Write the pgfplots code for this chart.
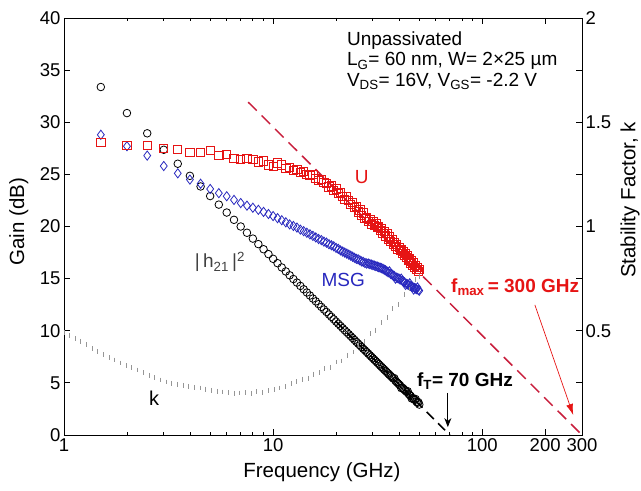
\documentclass[border=0pt]{standalone}
\usepackage{fontspec}
\setmainfont{Liberation Sans}
\usepackage{pgfplots}
\usepackage{pgfplotstable}
\pgfplotsset{compat=1.18}
\usetikzlibrary{arrows.meta,calc}

\definecolor{ured}{RGB}{230,20,20}
\definecolor{msgblue}{RGB}{40,40,190}
\definecolor{fmaxred}{RGB}{200,30,60}
\definecolor{kgray}{RGB}{150,150,150}
\newcommand\fs[1]{\fontsize{#1}{#1}\selectfont}

% f [GHz], |h21|^2 [dB], MSG [dB], U [dB]
\pgfplotstableread{
f h21 msg u
1.5 33.38 28.8 28.1
2 30.88 27.7 27.8
2.5 28.94 26.8 27.8
3 27.36 25.8 27.5
3.5 26.02 25.1 27.4
4 24.86 24.5 27.1
4.5 23.84 24.1 27.1
5 22.92 23.6 27.3
5.5 22.10 23.2 26.8
6 21.34 22.9 26.9
6.5 20.64 22.55 26.5
7 20.00 22.25 26.4
7.5 19.40 22.0 26.5
8 18.84 21.8 26.4
8.5 18.31 21.6 26.2
9 17.82 21.4 26.3
9.5 17.35 21.2 25.9
10 16.90 21.0 25.8
10.5 16.48 20.8 26.1
11 16.07 20.6 25.9
11.5 15.69 20.4 25.6
12 15.32 20.2 25.7
12.5 14.96 20.05 25.4
13 14.62 19.9 25.5
13.5 14.30 19.7 25.2
14 13.98 19.55 25.3
14.5 13.67 19.4 25.0
15 13.38 19.25 24.9
15.5 13.09 19.1 25.0
16 12.82 18.95 24.6
16.5 12.55 18.8 24.4
17 12.29 18.7 24.5
17.5 12.04 18.55 24.2
18 11.80 18.45 24.1
18.5 11.56 18.3 23.8
19 11.33 18.2 23.9
19.5 11.10 18.1 23.5
20 10.88 17.95 23.6
20.5 10.67 17.85 23.2
21 10.46 17.7 23.3
21.5 10.25 17.6 22.9
22 10.05 17.5 22.6
22.5 9.86 17.4 22.9
23 9.67 17.3 22.5
23.5 9.48 17.2 22.1
24 9.30 17.1 22.3
24.5 9.12 17.0 21.8
25 8.94 16.9 21.9
25.5 8.77 16.85 21.4
26 8.60 16.75 21.6
26.5 8.44 16.65 21.1
27 8.27 16.6 21.3
27.5 8.12 16.5 20.8
28 7.96 16.45 20.9
28.5 7.81 16.45 20.5
29 7.65 16.4 20.7
29.5 7.51 16.35 20.2
30 7.36 16.3 20.5
30.5 7.22 16.25 20.1
31 7.08 16.2 20.3
31.5 6.94 16.15 19.9
32 6.80 16.1 20.0
32.5 6.66 16.05 19.6
33 6.53 16.0 19.8
33.5 6.40 15.95 19.3
34 6.27 15.85 19.5
34.5 6.15 15.8 19.1
35 6.02 15.7 19.3
35.5 5.90 15.6 18.8
36 5.78 15.7 19.0
36.5 5.66 15.45 18.6
37 5.54 15.4 18.8
37.5 5.42 15.3 18.3
38 5.45 15.25 18.5
38.5 5.19 15.0 18.1
39 5.08 15.1 18.3
39.5 4.97 15.05 17.8
40 4.86 15.0 18.0
40.5 4.75 14.9 17.7
41 4.50 15.0 17.8
41.5 4.54 14.8 17.4
42 4.44 14.7 17.6
42.5 4.33 14.65 17.2
43 4.23 14.4 17.4
43.5 4.13 14.5 17.0
44 4.20 14.45 17.2
44.5 3.93 14.4 16.8
45 3.84 14.55 16.9
45.5 3.74 14.3 16.5
46 3.50 14.25 16.7
46.5 3.55 14.2 16.3
47 3.46 13.95 16.5
47.5 3.37 14.1 16.1
48 3.45 14.05 16.3
48.5 3.19 14.0 15.9
49 3.10 14.15 16.1
49.5 3.15 13.9 15.7
50 2.92 13.85 15.9
}\gaindata

% stability factor k
\pgfplotstableread{
f k
1.00 0.490
1.06 0.478
1.13 0.463
1.20 0.450
1.28 0.433
1.37 0.415
1.45 0.400
1.55 0.385
1.65 0.371
1.75 0.360
1.87 0.345
1.99 0.333
2.11 0.324
2.25 0.312
2.40 0.298
2.55 0.286
2.72 0.275
2.89 0.264
3.08 0.254
3.28 0.248
3.49 0.243
3.71 0.238
3.95 0.234
4.21 0.229
4.48 0.225
4.77 0.220
5.07 0.215
5.40 0.210
5.75 0.206
6.12 0.203
6.51 0.200
6.93 0.201
7.38 0.203
7.85 0.200
8.36 0.207
8.90 0.205
9.47 0.212
10.1 0.218
10.7 0.225
11.4 0.232
12.2 0.248
12.9 0.255
13.8 0.268
14.7 0.272
15.6 0.292
16.6 0.300
17.7 0.318
18.8 0.325
20.0 0.350
21.3 0.355
22.7 0.382
24.2 0.398
25.7 0.430
27.4 0.448
29.1 0.485
31.0 0.503
33.0 0.540
35.1 0.565
37.4 0.605
39.8 0.625
42.4 0.675
45.1 0.700
48.0 0.745
50.0 0.760
}\kdata

\begin{document}
\begin{tikzpicture}
\begin{axis}[name=main,
    scale only axis, width=518pt, height=417pt,
    xmode=log, xmin=1, xmax=300,
    ymin=0, ymax=40,
    tick align=inside,
    major tick length=6pt, minor tick length=3.5pt,
    axis line style={line width=0.8pt},
    every tick/.append style={black, line width=0.8pt},
    /pgf/number format/assume math mode=true,
    tick label style={font=\fs{18.5}},
    xtick={1,10,100,200,300}, xticklabels={1,10,100,200,300},
    minor xtick={2,3,4,5,6,7,8,9,20,30,40,50,60,70,80,90},
    ytick={0,5,...,40},
    xtick pos=both, ytick pos=left,
    clip=false]

  \addplot[only marks, mark=o, mark size=3.8pt, black, mark options={line width=0.8pt}]
    table[x=f, y=h21] {\gaindata};
  \addplot[only marks, mark=diamond, mark size=4.6pt, msgblue, mark options={line width=0.8pt}]
    table[x=f, y=msg] {\gaindata};
  \addplot[only marks, mark=square, mark size=4.1pt, ured, mark options={line width=0.8pt}]
    table[x=f, y=u] {\gaindata};

  % -20 dB/decade extrapolations
  \addplot[fmaxred, line width=1.5pt, dash pattern=on 12pt off 7pt]
    coordinates {(7.6,31.93) (300,0)};
  \addplot[black, line width=1.5pt, dash pattern=on 10pt off 6pt]
    coordinates {(20,10.88) (70,0)};

  % labels
  \node[rotate=90, font=\fs{20.5}] at (rel axis cs:-0.087,0.511) {Gain (dB)};
  \node[font=\fs{20.5}] at (rel axis cs:0.498,-0.089) {Frequency (GHz)};
  \node[rotate=90, font=\fs{20.5}] at (rel axis cs:1.093,0.564) {Stability Factor, k};

  \node[anchor=base west, inner xsep=0pt, font=\fs{19}] at (rel axis cs:0.546,0.934) {Unpassivated};
  \node[anchor=base west, inner xsep=0pt, font=\fs{19}] at (rel axis cs:0.546,0.885)
    {L\textsubscript{G}= 60 nm, W= 2×25 µm};
  \node[anchor=base west, inner xsep=0pt, font=\fs{19}] at (rel axis cs:0.546,0.836)
    {V\textsubscript{DS}= 16V, V\textsubscript{GS}= -2.2 V};

  \node[ured, font=\fs{19}] at (rel axis cs:0.575,0.619) {U};
  \node[msgblue, font=\fs{19}] at (rel axis cs:0.539,0.372) {MSG};
  \node[black!75, font=\fs{19}] at (rel axis cs:0.301,0.415) {|\,h\textsubscript{21}\,|\textsuperscript{2}};
  \node[font=\fs{20}] at (rel axis cs:0.174,0.088) {k};

  \node[ured, font=\bfseries\fs{19}] at (rel axis cs:0.871,0.355) {f\textsubscript{max}\,= 300 GHz};
  \node[black, font=\bfseries\fs{19}] at (rel axis cs:0.774,0.129) {f\textsubscript{T}= 70 GHz};

  \draw[ured, line width=0.7pt, -{Latex[length=11pt,width=7pt]}]
    (rel axis cs:0.909,0.312) -- (rel axis cs:0.983,0.048);
  \draw[black, line width=0.8pt, -{Stealth[length=9pt,width=7pt]}]
    (rel axis cs:0.741,0.101) -- (rel axis cs:0.741,0.019);
\end{axis}

\begin{axis}[
    scale only axis, width=518pt, height=417pt,
    xmode=log, xmin=1, xmax=300,
    ymin=0, ymax=2,
    tick align=inside,
    major tick length=6pt,
    axis line style={line width=0.8pt},
    every tick/.append style={black, line width=0.8pt},
    /pgf/number format/assume math mode=true,
    tick label style={font=\fs{18.5}},
    axis x line=none, axis y line*=right,
    ytick={0,0.25,...,2}, yticklabels={,,0.5,,1,,1.5,,2}]
  \addplot[only marks, mark=|, mark size=2.4pt, kgray, mark options={line width=1pt}]
    table[x=f, y=k] {\kdata};
\end{axis}

\pgfresetboundingbox
\path[use as bounding box] ($(main.south west)+(-64pt,-55pt)$) rectangle ($(main.north east)+(59pt,18pt)$);
\end{tikzpicture}
\end{document}
